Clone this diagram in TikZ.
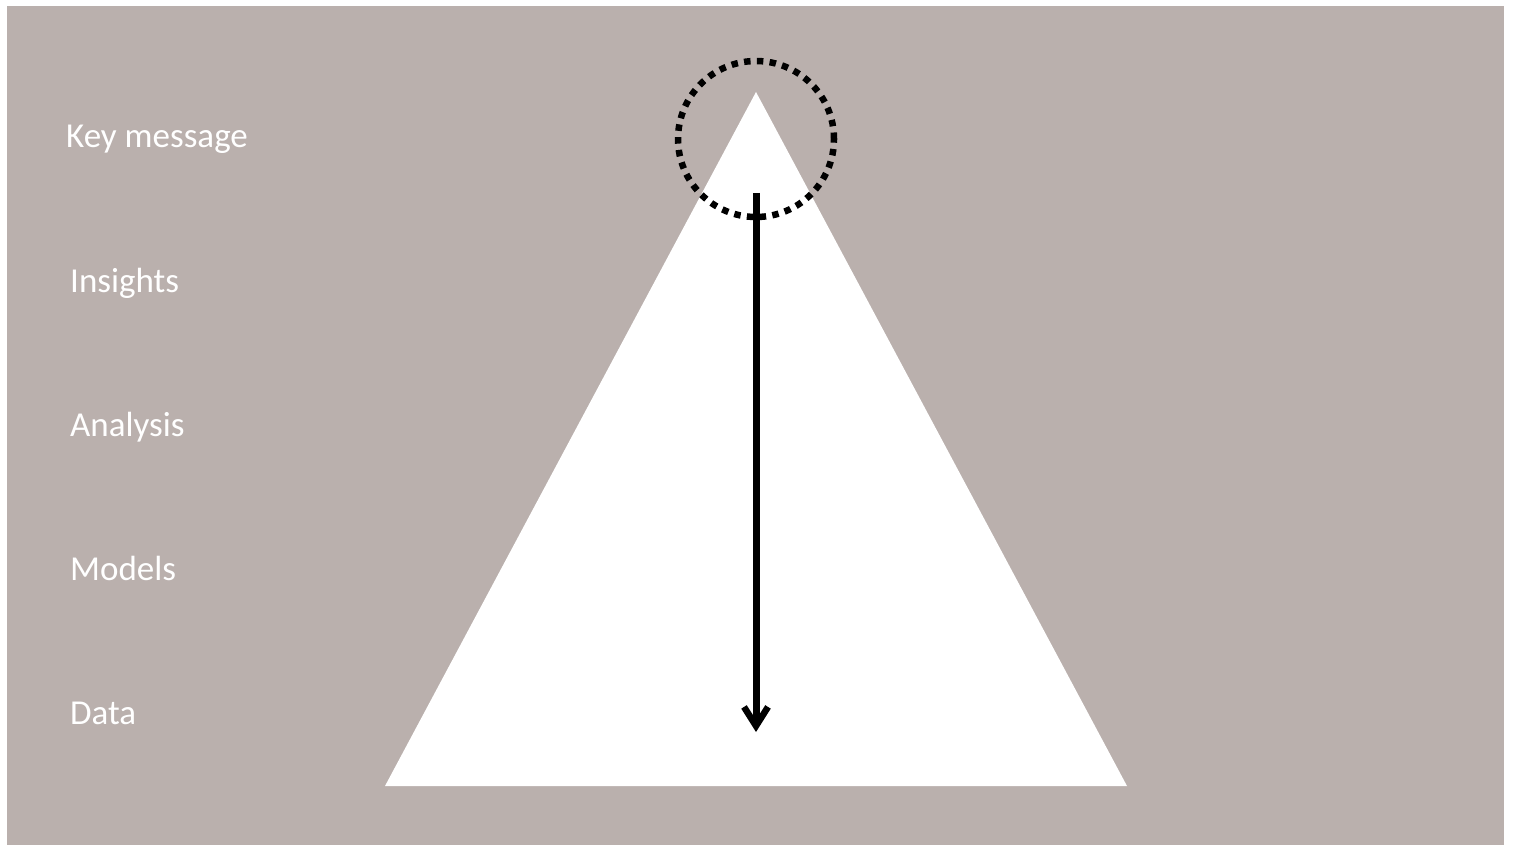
\documentclass[tikz,border=0pt]{standalone}
\usepackage{fontspec}
\setmainfont{Carlito}
\usetikzlibrary{arrows.meta}
\definecolor{bg}{HTML}{BAB0AD}
\begin{document}
\begin{tikzpicture}[x=1pt,y=-1pt,
  lbl/.style={anchor=base west,inner sep=0pt,text=white,font=\fontsize{35}{40}\selectfont}]
\useasboundingbox (0,0) rectangle (1514,845);
\fill[white] (0,0) rectangle (1514,845);
\fill[bg] (7,6) rectangle (1504,845);
\coordinate (apex) at (756,92);
\coordinate (bl) at (385,786);
\coordinate (br) at (1127,786);
\fill[white] (apex) -- (bl) -- (br) -- cycle;
\node[draw=black,line width=6.5pt,dash pattern=on 6.5pt off 6.3pt,circle,minimum size=156pt,inner sep=0pt] (focus) at (756,139) {};
\coordinate (top) at (756,193);
\coordinate (bot) at (756,732);
\draw[line width=7pt,-{Straight Barb[length=19pt,width=24pt,line width=6.5pt]}] (top) -- (bot);
\node[lbl] (km) at (66,148) {Key message};
\node[lbl] (ins) at (70,292) {Insights};
\node[lbl] (ana) at (70,436) {Analysis};
\node[lbl] (mod) at (70,580) {Models};
\node[lbl] (dat) at (70,724) {Data};
\end{tikzpicture}
\end{document}
